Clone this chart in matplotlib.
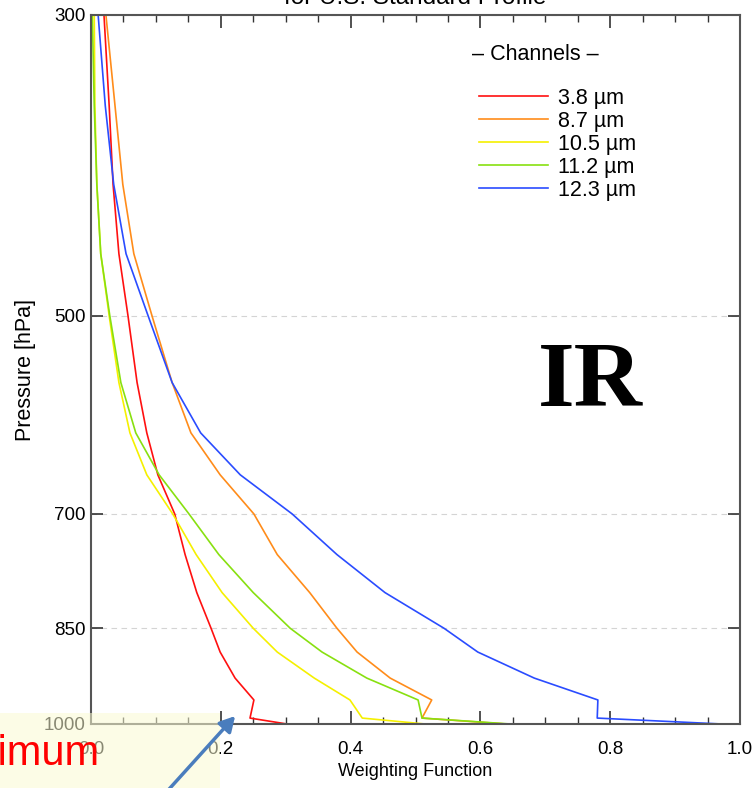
import matplotlib
matplotlib.use('Agg')
import matplotlib.pyplot as plt
import matplotlib.ticker as ticker
from matplotlib.patches import Rectangle, FancyArrowPatch

plt.rcParams['font.family'] = ['Liberation Sans', 'DejaVu Sans']

# pressure levels [hPa] and weighting functions per channel
pressure = [300, 350, 400, 450, 500, 560, 610, 655, 700, 750, 800, 850, 885, 925, 960, 990, 1000]
wf_38 = [0.020, 0.028, 0.034, 0.043, 0.057, 0.071, 0.086, 0.103, 0.129, 0.145, 0.163, 0.185, 0.199, 0.222, 0.251, 0.245, 0.302]
wf_87 = [0.023, 0.037, 0.049, 0.066, 0.094, 0.125, 0.154, 0.199, 0.251, 0.287, 0.337, 0.379, 0.410, 0.461, 0.525, 0.510, 0.640]
wf_105 = [0.005, 0.006, 0.009, 0.015, 0.028, 0.043, 0.060, 0.086, 0.126, 0.162, 0.202, 0.250, 0.287, 0.344, 0.399, 0.418, 0.515]
wf_112 = [0.002, 0.005, 0.009, 0.015, 0.029, 0.046, 0.069, 0.105, 0.151, 0.197, 0.250, 0.307, 0.356, 0.425, 0.504, 0.510, 0.646]
wf_123 = [0.011, 0.022, 0.035, 0.054, 0.088, 0.125, 0.169, 0.230, 0.310, 0.379, 0.453, 0.544, 0.596, 0.683, 0.781, 0.780, 0.972]

channels = ["3.8 \u00b5m", "8.7 \u00b5m", "10.5 \u00b5m", "11.2 \u00b5m", "12.3 \u00b5m"]
colors = ["#ff1010", "#ff8c1a", "#f5f000", "#88e010", "#2a4cff"]
series = [wf_38, wf_87, wf_105, wf_112, wf_123]

yticks = [300, 500, 700, 850, 1000]
xticks = [0.0, 0.2, 0.4, 0.6, 0.8, 1.0]

W, H = 756, 788
fig = plt.figure(figsize=(W / 100, H / 100), dpi=100)
ax = fig.add_axes([91 / W, 1 - 724 / H, 649 / W, 709 / H])

for wf, c, lab in zip(series, colors, channels):
    ax.plot(wf, pressure, color=c, lw=1.2, label=lab)

ax.set_yscale('log')
ax.set_ylim(1000, 300)
ax.set_xlim(0, 1.0)
ax.yaxis.set_major_locator(ticker.FixedLocator(yticks))
ax.yaxis.set_major_formatter(ticker.FixedFormatter([str(v) for v in yticks]))
ax.yaxis.set_minor_locator(ticker.NullLocator())
ax.set_xticks(xticks)
ax.set_xticklabels(["%.1f" % v for v in xticks])
ax.xaxis.set_minor_locator(ticker.MultipleLocator(0.05))

ax.tick_params(axis='both', which='both', direction='in', top=True, right=True, color='#333333')
ax.tick_params(axis='y', which='major', length=8.5, width=1.2, labelsize=13.5, pad=4)
ax.tick_params(axis='x', which='major', length=9.5, width=1.2, labelsize=13.5, pad=12)
ax.tick_params(axis='x', which='minor', length=5, width=1.0)

ax.yaxis.grid(True, ls=(0, (5, 4)), color='#d4d4d4', lw=0.8)
for s in ax.spines.values():
    s.set_color('#555555')
    s.set_linewidth(1.5)

leg = ax.legend(loc='upper left', bbox_to_anchor=((479 - 91) / 649, (724 - 88) / 709),
                frameon=False, fontsize=15.5, handlelength=3.2, handletextpad=0.45,
                labelspacing=0.09, borderpad=0, borderaxespad=0)
fig.text(472 / W, 1 - 55 / H, "\u2013 Channels \u2013", fontsize=15.5,
         ha='left', va='center')

fig.text(590 / W, 1 - 384 / H, "IR", fontsize=68, fontweight='bold',
         family='Liberation Serif', ha='center', va='center')

fig.text(415 / W, 1 - 4 / H, "for U.S. Standard Profile", fontsize=17.5,
         ha='center', va='baseline')
fig.text(415 / W, 1 - 772 / H, "Weighting Function", fontsize=13,
         ha='center', va='center')
fig.text(25 / W, 1 - 370 / H, "Pressure [hPa]", fontsize=15.5, rotation=90,
         ha='center', va='center')

# overlay from the slide: note box and arrow
box = Rectangle((0, 0), 220 / W, 75 / H, transform=fig.transFigure,
                facecolor='#fafad2', alpha=0.55, edgecolor='none', zorder=2)
fig.add_artist(box)
fig.text(100 / W, 1 - 765 / H, "Maximum", fontsize=30, color='red',
         ha='right', va='baseline', zorder=3)
arrow = FancyArrowPatch((152 / W, -20 / H), (237 / W, (H - 714) / H),
                        transform=fig.transFigure,
                        arrowstyle='-|>,head_length=9,head_width=5',
                        color='#4a7dbd', lw=2.5, zorder=4)
fig.add_artist(arrow)

fig.savefig("out.png", dpi=100)
